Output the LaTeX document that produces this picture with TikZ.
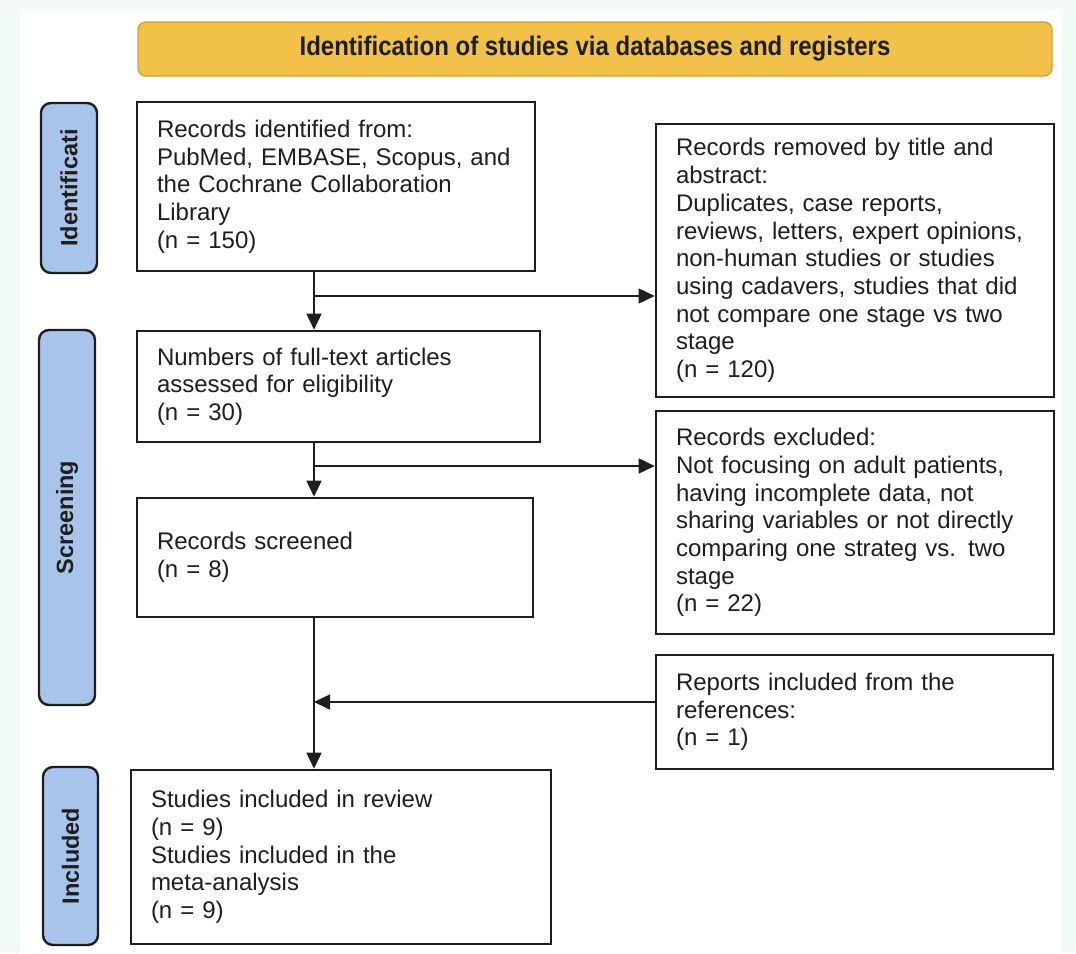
\documentclass[tikz,border=0pt]{standalone}
\usepackage{fontspec}
\setmainfont{Liberation Sans}
\usetikzlibrary{arrows.meta,calc}
\definecolor{mint}{HTML}{F2FAF5}
\definecolor{gold}{HTML}{F2C14A}
\definecolor{goldline}{HTML}{C9A43C}
\definecolor{lblue}{HTML}{A8C4EA}
\definecolor{ink}{HTML}{1E1E1E}
\tikzset{
  box/.style={draw=ink, line width=2.6pt, fill=white, align=left, inner xsep=20pt, inner ysep=0pt, text=ink, font=\fontsize{24}{27.7}\selectfont},
  side/.style={draw=ink, line width=2.4pt, fill=lblue, rounded corners=10pt, text=ink, inner sep=0pt, font=\bfseries\fontsize{23.5}{26}\selectfont, rotate=90},
  banner/.style={draw=goldline, line width=1.4pt, fill=gold, rounded corners=8pt, text=ink, inner sep=0pt, font=\bfseries\fontsize{24}{28}\selectfont},
  conn/.style={draw=ink, line width=1.6pt},
  arr/.style={conn, -{Triangle[length=16pt,width=15pt]}},
}
\begin{document}
\begin{tikzpicture}[x=1pt,y=-1pt]
\useasboundingbox (0,0) rectangle (1076,953);
\fill[mint] (0,0) rectangle (1076,953);
\fill[white] (20,10) rectangle (1062,953);

\node[banner, minimum width=914pt, minimum height=54pt] (ban) at (595,49) {\scalebox{1.0}[1.12]{Identification of studies via databases and registers}};

\node[side, minimum width=170pt, minimum height=56pt] (l1) at (69,188) {Identificati};
\node[side, minimum width=375pt, minimum height=56pt] (l2) at (67,517.5) {Screening};
\node[side, minimum width=178pt, minimum height=55pt] (l3) at (70.5,856) {Included};

\node[box, minimum width=398pt, minimum height=169pt, text width=358pt] (b1) at (336,186.5) {Records identified from:\\PubMed, EMBASE, Scopus, and\\the Cochrane Collaboration\\Library\\(n = 150)};
\node[box, minimum width=403pt, minimum height=111pt, text width=363pt] (b2) at (338.5,386.5) {Numbers of full-text articles\\assessed for eligibility\\(n = 30)};
\node[box, minimum width=396pt, minimum height=119pt, text width=356pt] (b3) at (335,557.5) {Records screened\\(n = 8)};
\node[box, minimum width=420pt, minimum height=174pt, text width=380pt] (b4) at (341,857) {Studies included in review\\(n = 9)\\Studies included in the\\meta-analysis\\(n = 9)};

\node[box, minimum width=398pt, minimum height=273pt, text width=358pt] (r1) at (855,260.5) {Records removed by title and\\abstract:\\Duplicates, case reports,\\reviews, letters, expert opinions,\\non-human studies or studies\\using cadavers, studies that did\\not compare one stage vs two\\stage\\(n = 120)};
\node[box, minimum width=398pt, minimum height=223pt, text width=358pt] (r2) at (855,522.5) {Records excluded:\\Not focusing on adult patients,\\having incomplete data, not\\sharing variables or not directly\\comparing one strateg vs. two\\stage\\(n = 22)};
\node[box, minimum width=397pt, minimum height=114pt, text width=357pt] (r3) at (854.5,712) {Reports included from the\\references:\\(n = 1)};

\coordinate (j1) at (314,296);
\coordinate (j2) at (314,466);
\coordinate (j3) at (314,702);

\draw[arr] (b1.south -| j1) -- (b2.north -| j1);
\draw[arr] (j1) -- (j1 -| r1.west);
\draw[arr] (b2.south -| j1) -- (b3.north -| j1);
\draw[arr] (j2) -- (j2 -| r2.west);
\draw[arr] (b3.south -| j1) -- (b4.north -| j1);
\draw[arr] (j3 -| r3.west) -- (j3);
\end{tikzpicture}
\end{document}
